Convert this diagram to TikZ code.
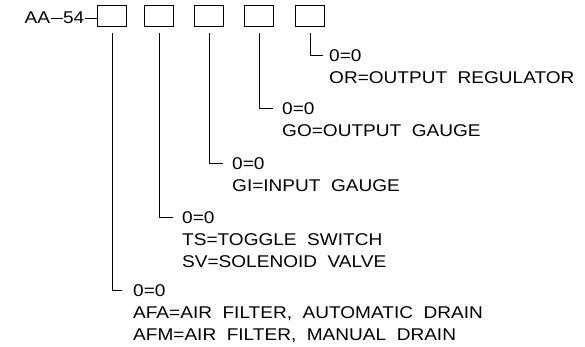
\documentclass[tikz,border=0pt]{standalone}
\usepackage{fontspec}
\setmainfont{Liberation Sans}[FakeStretch=1.12]
\newcommand{\cadDash}{\kern0.5pt\rule[4.6pt]{12pt}{0.9pt}\kern0.5pt}
\begin{document}
\begin{tikzpicture}[x=1pt,y=-1pt,
  slot/.style={draw, line width=0.8pt, minimum width=29pt, minimum height=21pt, inner sep=0pt, anchor=north west},
  lead/.style={draw, line width=0.8pt},
  lbl/.style={anchor=base west, inner sep=0pt, font=\fontsize{17}{19}\selectfont}]
\useasboundingbox (0,0) rectangle (585,346);
% prefix
\node[lbl, anchor=base east] (pre) at (97.5,23) {AA\cadDash 54\cadDash};
% slots
\node[slot] (b1) at (97,5) {};
\node[slot] (b2) at (144,5) {};
\node[slot] (b3) at (194,5) {};
\node[slot] (b4) at (244,5) {};
\node[slot] (b5) at (295,5) {};
% lead ends
\coordinate (e5) at (323,55);
\coordinate (e4) at (273,108);
\coordinate (e3) at (223,163);
\coordinate (e2) at (173,217);
\coordinate (e1) at (122,290);
\draw[lead] ([yshift=-6pt]b5.south) |- (e5);
\draw[lead] ([yshift=-6pt]b4.south) |- (e4);
\draw[lead] ([yshift=-6pt]b3.south) |- (e3);
\draw[lead] ([yshift=-6pt]b2.south) |- (e2);
\draw[lead] ([yshift=-6pt]b1.south) |- (e1);
% labels
\node[lbl] (t5a) at (329,61) {0=0};
\node[lbl] (t5b) at (329,83) {OR=OUTPUT\ \ REGULATOR};
\node[lbl] (t4a) at (282,114) {0=0};
\node[lbl] (t4b) at (282,136) {GO=OUTPUT\ \ GAUGE};
\node[lbl] (t3a) at (232,169) {0=0};
\node[lbl] (t3b) at (232,191) {GI=INPUT\ \ GAUGE};
\node[lbl] (t2a) at (182,223) {0=0};
\node[lbl] (t2b) at (182,245) {TS=TOGGLE\ \ SWITCH};
\node[lbl] (t2c) at (182,267) {SV=SOLENOID\ \ VALVE};
\node[lbl] (t1a) at (133,296) {0=0};
\node[lbl] (t1b) at (133,318) {AFA=AIR\ \ FILTER,\ \ AUTOMATIC\ \ DRAIN};
\node[lbl] (t1c) at (133,340) {AFM=AIR\ \ FILTER,\ \ MANUAL\ \ DRAIN};
\end{tikzpicture}
\end{document}
